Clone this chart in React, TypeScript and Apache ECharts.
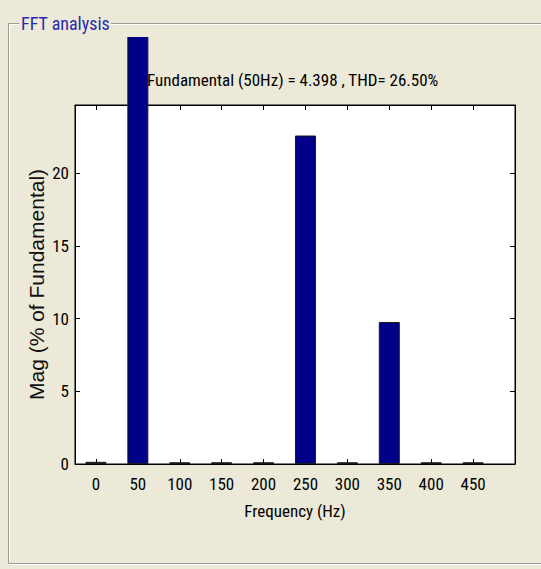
import React, { useEffect, useRef } from "react";
import * as echarts from "echarts";

const frequencies = [0, 50, 100, 150, 200, 250, 300, 350, 400, 450];
const magnitudes = [0.15, 100, 0.12, 0.12, 0.12, 22.6, 0.12, 9.77, 0.12, 0.12];
const xTickValues = [0, 50, 100, 150, 200, 250, 300, 350, 400, 450];
const yTickValues = [0, 5, 10, 15, 20];
const chartTitle = "Fundamental (50Hz) = 4.398 , THD= 26.50%";
const panelTitle = "FFT analysis";
const xName = "Frequency (Hz)";
const yName = "Mag (% of Fundamental)";

const NARROW = "'Roboto Condensed', 'Liberation Sans Narrow', sans-serif";
const REGULAR = "'Liberation Sans', Arial, sans-serif";
const BG = "#ECE9D8";

export default function App() {
  const ref = useRef<HTMLDivElement>(null);
  useEffect(() => {
    const chart = echarts.init(ref.current!, null, { renderer: "svg" });
    const tickStyle = { color: "#000", width: 1 };
    chart.setOption({
      animation: false,
      backgroundColor: BG,
      title: {
        text: chartTitle,
        left: 147,
        top: 71,
        padding: 0,
        textStyle: { fontFamily: NARROW, fontSize: 17, fontWeight: "normal", color: "#000" },
      },
      grid: {
        left: 75,
        right: 26,
        top: 105,
        bottom: 105,
        show: true,
        backgroundColor: "#fff",
        borderColor: "#000",
        borderWidth: 1,
      },
      xAxis: [
        {
          type: "value",
          min: -25,
          max: 500,
          position: "bottom",
          name: xName,
          nameLocation: "middle",
          nameGap: 38,
          nameTextStyle: { fontFamily: NARROW, fontSize: 17, color: "#000" },
          axisLine: { show: true, onZero: false, lineStyle: { color: "#000" } },
          axisTick: { show: true, inside: true, length: 5, customValues: xTickValues, lineStyle: tickStyle },
          axisLabel: { customValues: xTickValues, margin: 11, fontFamily: NARROW, fontSize: 17, color: "#000" },
          splitLine: { show: false },
        },
        {
          type: "value",
          min: -25,
          max: 500,
          position: "top",
          axisLine: { show: true, onZero: false, lineStyle: { color: "#000" } },
          axisTick: { show: true, inside: true, length: 5, customValues: xTickValues, lineStyle: tickStyle },
          axisLabel: { show: false },
          splitLine: { show: false },
        },
      ],
      yAxis: [
        {
          type: "value",
          min: 0,
          max: 24.7,
          position: "left",
          name: yName,
          nameLocation: "middle",
          nameGap: 28,
          nameMoveOverlap: false,
          nameRotate: 90,
          nameTextStyle: { fontFamily: REGULAR, fontSize: 21, color: "#111" },
          axisLine: { show: true, onZero: false, lineStyle: { color: "#000" } },
          axisTick: { show: true, inside: true, length: 5, customValues: yTickValues, lineStyle: tickStyle },
          axisLabel: { customValues: yTickValues, margin: 6, fontFamily: NARROW, fontSize: 17, color: "#000" },
          splitLine: { show: false },
        },
        {
          type: "value",
          min: 0,
          max: 24.7,
          position: "right",
          axisLine: { show: true, onZero: false, lineStyle: { color: "#000" } },
          axisTick: { show: true, inside: true, length: 5, customValues: yTickValues, lineStyle: tickStyle },
          axisLabel: { show: false },
          splitLine: { show: false },
        },
      ],
      series: [
        {
          type: "bar",
          xAxisIndex: 0,
          yAxisIndex: 0,
          data: frequencies.map((f, i) => [f, magnitudes[i]]),
          barWidth: 21,
          clip: false,
          itemStyle: { color: "#000088", borderColor: "#1a1a1a", borderWidth: 1 },
        },
      ],
      graphic: [
        { type: "rect", z: 50, shape: { x: 0, y: 0, width: 541, height: 37 }, style: { fill: BG } },
        { type: "line", z: 51, shape: { x1: 8.5, y1: 23.5, x2: 19, y2: 23.5 }, style: { stroke: "#9a9a9a", lineWidth: 1 } },
        { type: "line", z: 51, shape: { x1: 9.5, y1: 24.5, x2: 19, y2: 24.5 }, style: { stroke: "#ffffff", lineWidth: 1 } },
        { type: "line", z: 51, shape: { x1: 111, y1: 23.5, x2: 541, y2: 23.5 }, style: { stroke: "#9a9a9a", lineWidth: 1 } },
        { type: "line", z: 51, shape: { x1: 111, y1: 24.5, x2: 541, y2: 24.5 }, style: { stroke: "#ffffff", lineWidth: 1 } },
        { type: "line", z: 51, shape: { x1: 8.5, y1: 23.5, x2: 8.5, y2: 563.5 }, style: { stroke: "#9a9a9a", lineWidth: 1 } },
        { type: "line", z: 51, shape: { x1: 9.5, y1: 24.5, x2: 9.5, y2: 562.5 }, style: { stroke: "#ffffff", lineWidth: 1 } },
        { type: "line", z: 51, shape: { x1: 8.5, y1: 563.5, x2: 541, y2: 563.5 }, style: { stroke: "#9a9a9a", lineWidth: 1 } },
        { type: "line", z: 51, shape: { x1: 8.5, y1: 564.5, x2: 541, y2: 564.5 }, style: { stroke: "#ffffff", lineWidth: 1 } },
        {
          type: "text",
          z: 52,
          x: 21,
          y: 23,
          style: {
            text: panelTitle,
            fontFamily: NARROW,
            fontSize: 18,
            fill: "#2a2ab0",
            verticalAlign: "middle",
            align: "left",
          },
        },
      ],
    });
    return () => chart.dispose();
  }, []);
  return <div ref={ref} style={{ position: "absolute", left: 0, top: 0, width: 541, height: 569 }} />;
}
